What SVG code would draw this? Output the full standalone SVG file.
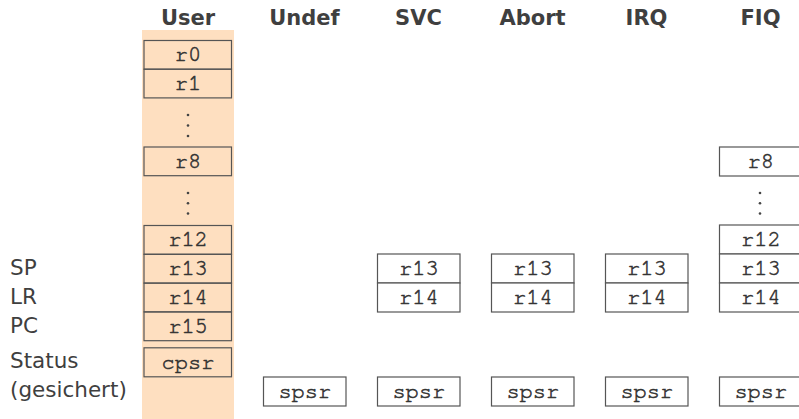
<svg xmlns="http://www.w3.org/2000/svg" width="799" height="419" viewBox="0 0 799 419">
<style>
.hd{font-family:"DejaVu Sans",sans-serif;font-weight:bold;font-size:21px;fill:#3f3f3f;text-anchor:middle}
.lb{font-family:"DejaVu Sans",sans-serif;font-size:21.5px;fill:#3f3f3f}
.rg{font-family:"FreeMono","Nimbus Mono PS","Courier New","Liberation Mono",monospace;font-size:22px;fill:#333;stroke:#333;stroke-width:0.55;text-anchor:middle}
.bx{fill:#fff;stroke:#555;stroke-width:1.2}
.ub{fill:none;stroke:#555;stroke-width:1.2}
.dt{fill:#444}
</style>
<rect x="142" y="30" width="92" height="389" fill="#fedfc0"/>
<g id="headers">
<text class="hd" x="188" y="25">User</text>
<text class="hd" x="304.5" y="25">Undef</text>
<text class="hd" x="418.5" y="25">SVC</text>
<text class="hd" x="532.5" y="25">Abort</text>
<text class="hd" x="646.5" y="25">IRQ</text>
<text class="hd" x="760.5" y="25">FIQ</text>
</g>
<g id="labels">
<text class="lb" x="10" y="275">SP</text>
<text class="lb" x="10" y="304">LR</text>
<text class="lb" x="10" y="333">PC</text>
<text class="lb" x="10" y="368">Status</text>
<text class="lb" x="10" y="397">(gesichert)</text>
</g>
<g id="user">
<rect class="ub" x="144" y="40.5" width="87.5" height="28.7"/><text class="rg" x="188" y="61">r0</text>
<rect class="ub" x="144" y="69.2" width="87.5" height="28.7"/><text class="rg" x="188" y="90">r1</text>
<circle class="dt" cx="188" cy="115" r="1.3"/><circle class="dt" cx="188" cy="125.5" r="1.3"/><circle class="dt" cx="188" cy="136" r="1.3"/>
<rect class="ub" x="144" y="147" width="87.5" height="28.7"/><text class="rg" x="188" y="168">r8</text>
<circle class="dt" cx="188" cy="193" r="1.3"/><circle class="dt" cx="188" cy="203.3" r="1.3"/><circle class="dt" cx="188" cy="213.5" r="1.3"/>
<rect class="ub" x="144" y="225.5" width="87.5" height="28.8"/><text class="rg" x="188" y="246">r12</text>
<rect class="ub" x="144" y="254.3" width="87.5" height="28.8"/><text class="rg" x="188" y="275">r13</text>
<rect class="ub" x="144" y="283.1" width="87.5" height="28.8"/><text class="rg" x="188" y="304">r14</text>
<rect class="ub" x="144" y="311.9" width="87.5" height="28.8"/><text class="rg" x="188" y="333">r15</text>
<rect class="ub" x="144" y="347.8" width="87.5" height="29"/><text class="rg" x="188" y="368.5">cpsr</text>
</g>
<g id="undef">
<rect class="bx" x="263.5" y="377" width="82.5" height="29"/><text class="rg" x="304.8" y="398">spsr</text>
</g>
<g id="svc">
<rect class="bx" x="377.5" y="254" width="82.5" height="29"/><text class="rg" x="418.8" y="275">r13</text>
<rect class="bx" x="377.5" y="283" width="82.5" height="29"/><text class="rg" x="418.8" y="304">r14</text>
<rect class="bx" x="377.5" y="377" width="82.5" height="29"/><text class="rg" x="418.8" y="398">spsr</text>
</g>
<g id="abort">
<rect class="bx" x="491.5" y="254" width="82.5" height="29"/><text class="rg" x="532.8" y="275">r13</text>
<rect class="bx" x="491.5" y="283" width="82.5" height="29"/><text class="rg" x="532.8" y="304">r14</text>
<rect class="bx" x="491.5" y="377" width="82.5" height="29"/><text class="rg" x="532.8" y="398">spsr</text>
</g>
<g id="irq">
<rect class="bx" x="605.5" y="254" width="82.5" height="29"/><text class="rg" x="646.8" y="275">r13</text>
<rect class="bx" x="605.5" y="283" width="82.5" height="29"/><text class="rg" x="646.8" y="304">r14</text>
<rect class="bx" x="605.5" y="377" width="82.5" height="29"/><text class="rg" x="646.8" y="398">spsr</text>
</g>
<g id="fiq">
<rect class="bx" x="719.5" y="147" width="82.5" height="29"/><text class="rg" x="760.8" y="168">r8</text>
<circle class="dt" cx="760" cy="193" r="1.3"/><circle class="dt" cx="760" cy="203.3" r="1.3"/><circle class="dt" cx="760" cy="213.5" r="1.3"/>
<rect class="bx" x="719.5" y="225" width="82.5" height="29"/><text class="rg" x="760.8" y="246">r12</text>
<rect class="bx" x="719.5" y="254" width="82.5" height="29"/><text class="rg" x="760.8" y="275">r13</text>
<rect class="bx" x="719.5" y="283" width="82.5" height="29"/><text class="rg" x="760.8" y="304">r14</text>
<rect class="bx" x="719.5" y="377" width="82.5" height="29"/><text class="rg" x="760.8" y="398">spsr</text>
</g>
<g id="connectors"></g>
</svg>
